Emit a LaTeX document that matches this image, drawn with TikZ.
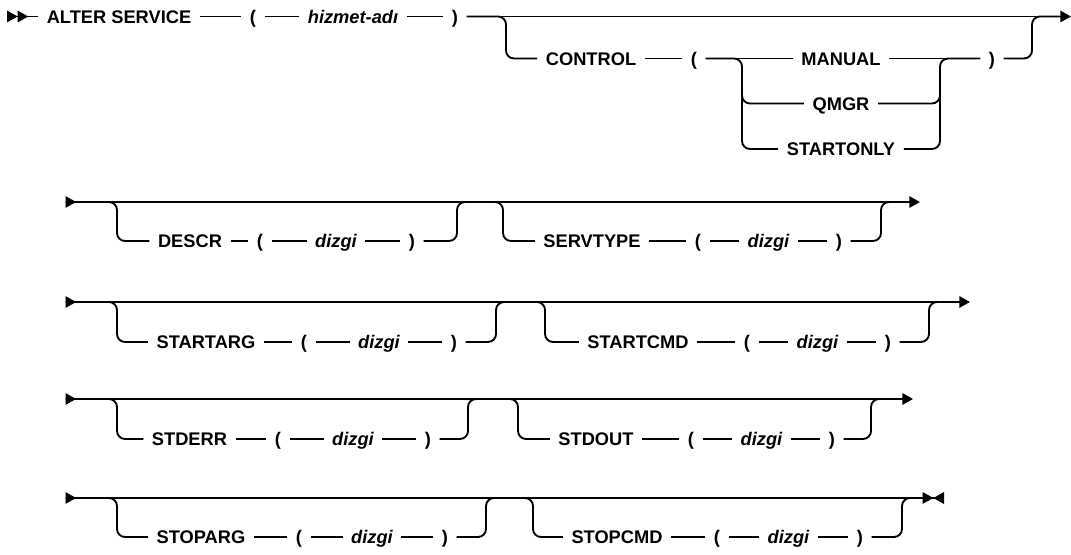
\documentclass[tikz,border=0pt]{standalone}
\usepackage{fontspec}
\setmainfont{Liberation Sans}
\usetikzlibrary{arrows.meta}
\tikzset{tri/.tip={Triangle[length=8pt,width=8.5pt]},
  irt/.tip={Triangle[reversed,length=8pt,width=8.5pt]},
  rail/.style={line width=1.4pt, rounded corners=6pt},
  kw/.style={inner sep=0pt, outer xsep=6.5pt, outer ysep=0pt, text height=9.8pt, text depth=0pt, font=\fontsize{13.7}{16}\selectfont\bfseries},
  var/.style={kw, font=\fontsize{13.7}{16}\selectfont\bfseries\itshape}}

\begin{document}
\begin{tikzpicture}[x=0.75pt, y=-0.75pt]
  \useasboundingbox (0,0) rectangle (1071,555);
  % ALTER SERVICE ( hizmet-adı )
  \node[kw]  (alter) at (119,16.5) {ALTER SERVICE};
  \node[kw]  (lpa)   at (253,16.5) {(};
  \node[var] (hname) at (353,16.5) {hizmet-adı};
  \node[kw]  (rpa)   at (455,16.5) {)};
  % CONTROL ( MANUAL | QMGR | STARTONLY )
  \node[kw] (ctrl)   at (591,58.5)  {CONTROL};
  \node[kw] (lpb)    at (694,58.5)  {(};
  \node[kw] (manual) at (841,58.5)  {MANUAL};
  \node[kw] (qmgr)   at (841,103.5) {QMGR};
  \node[kw] (stonly) at (841,149)   {STARTONLY};
  \node[kw] (rpb)    at (992,58.5)  {)};
  % optional string parameters
  \node[kw]  (descr)    at (190,241) {DESCR};
  \node[kw]  (lpc)      at (260,241) {(};
  \node[var] (dza)      at (336,241) {dizgi};
  \node[kw]  (rpc)      at (412,241) {)};
  \node[kw]  (servtype) at (592,241) {SERVTYPE};
  \node[kw]  (lpd)      at (698,241) {(};
  \node[var] (dzb)      at (768.5,241) {dizgi};
  \node[kw]  (rpd)      at (839,241) {)};
  \node[kw]  (startarg) at (206,342) {STARTARG};
  \node[kw]  (lpe)      at (304,342) {(};
  \node[var] (dzc)      at (379,342) {dizgi};
  \node[kw]  (rpe)      at (454,342) {)};
  \node[kw]  (startcmd) at (638,342) {STARTCMD};
  \node[kw]  (lpf)      at (747,342) {(};
  \node[var] (dzd)      at (817.5,342) {dizgi};
  \node[kw]  (rpf)      at (888,342) {)};
  \node[kw]  (stderr)   at (189.5,439) {STDERR};
  \node[kw]  (lpg)      at (278,439) {(};
  \node[var] (dze)      at (353,439) {dizgi};
  \node[kw]  (rpg)      at (428,439) {)};
  \node[kw]  (stdout)   at (596,439) {STDOUT};
  \node[kw]  (lph)      at (691,439) {(};
  \node[var] (dzf)      at (761.5,439) {dizgi};
  \node[kw]  (rph)      at (832,439) {)};
  \node[kw]  (stoparg)  at (201,537) {STOPARG};
  \node[kw]  (lpi)      at (299,537) {(};
  \node[var] (dzg)      at (372,537) {dizgi};
  \node[kw]  (rpi)      at (445,537) {)};
  \node[kw]  (stopcmd)  at (617,537) {STOPCMD};
  \node[kw]  (lpj)      at (717,537) {(};
  \node[var] (dzh)      at (788.5,537) {dizgi};
  \node[kw]  (rpj)      at (860,537) {)};
  % rail ends and corners
  \coordinate (go1) at (7,16.5);    \coordinate (end1) at (1071,16.5);
  \coordinate (dn1) at (506,58.5);  \coordinate (up1) at (1032,16.5);
  \coordinate (sL) at (742,149);    \coordinate (sLq) at (742,88);
  \coordinate (sR) at (940,58.5);   \coordinate (sRq) at (940,88);
  \coordinate (go2) at (65.5,202);  \coordinate (end2) at (920,202);
  \coordinate (da2) at (117,241);   \coordinate (ua2) at (457,202);
  \coordinate (db2) at (503,241);   \coordinate (ub2) at (881,202);
  \coordinate (go3) at (65.5,302);  \coordinate (end3) at (970,302);
  \coordinate (da3) at (117,342);   \coordinate (ua3) at (496,302);
  \coordinate (db3) at (545,342);   \coordinate (ub3) at (929,302);
  \coordinate (go4) at (65.5,399);  \coordinate (end4) at (913,399);
  \coordinate (da4) at (117,439);   \coordinate (ua4) at (468,399);
  \coordinate (db4) at (518,439);   \coordinate (ub4) at (871,399);
  \coordinate (go5) at (65.5,498);  \coordinate (end5) at (944,498);
  \coordinate (da5) at (117,537);   \coordinate (ua5) at (486,498);
  \coordinate (db5) at (533,537);   \coordinate (ub5) at (902,498);
  % short dashes between tokens
  \foreach \a/\b in {alter/lpa, lpa/hname, hname/rpa, ctrl/lpb, lpb/manual, manual/rpb,
      descr/lpc, lpc/dza, dza/rpc, servtype/lpd, lpd/dzb, dzb/rpd,
      startarg/lpe, lpe/dzc, dzc/rpe, startcmd/lpf, lpf/dzd, dzd/rpf,
      stderr/lpg, lpg/dze, dze/rpg, stdout/lph, lph/dzf, dzf/rph,
      stoparg/lpi, lpi/dzg, dzg/rpi, stopcmd/lpj, lpj/dzh, dzh/rpj}{\draw[rail] (\a) -- (\b);}
  % first line
  \draw[rail, {irt[]irt[]}-] (go1) -- (alter);
  \draw[rail, -tri] (rpa) -- (end1);
  \draw[rail] (rpa) -| (dn1) -- (ctrl);
  \draw[rail, shorten >=8pt] (rpb) -| (up1) -- (end1);
  \draw[rail] (lpb) -| (sL) -- (stonly);
  \draw[rail] (sLq) |- (qmgr);
  \draw[rail] (stonly) -| (sR) -- (rpb);
  \draw[rail] (qmgr) -| (sRq);
  % continuation lines
  \foreach \r/\ka/\ra/\kb in {2/descr/rpc/servtype, 3/startarg/rpe/startcmd,
      4/stderr/rpg/stdout, 5/stoparg/rpi/stopcmd}{
    \draw[rail] (go\r) -| (da\r) -- (\ka);
    \draw[rail] (\ra) -| (ua\r) -| (db\r) -- (\kb);
  }
  \foreach \r/\rb in {2/rpd, 3/rpf, 4/rph}{
    \draw[rail, irt-tri] (go\r) -- (end\r);
    \draw[rail, shorten >=8pt] (\rb) -| (ub\r) -- (end\r);
  }
  \draw[rail, {irt[]}-{tri[]irt[]}] (go5) -- (end5);
  \draw[rail, shorten >=16pt] (rpj) -| (ub5) -- (end5);
\end{tikzpicture}
\end{document}
